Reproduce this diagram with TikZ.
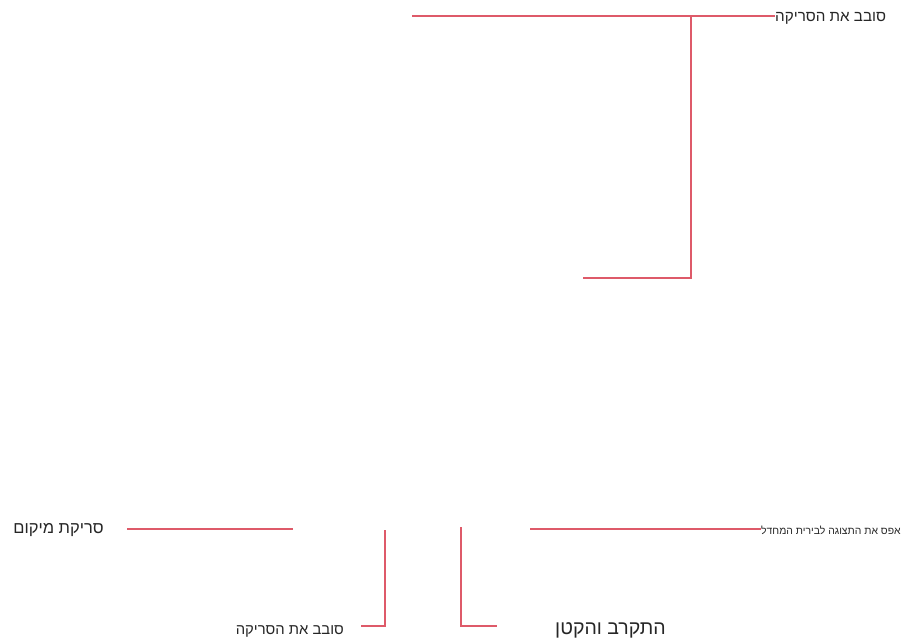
\documentclass[tikz,border=0pt]{standalone}
\usepackage{fontspec}
\setmainfont{Liberation Sans}
\newfontfamily\hebfont[Script=Hebrew]{Liberation Sans}
\TeXXeTstate=1
\begin{document}
\begin{tikzpicture}[x=1pt,y=-1pt,
  lbl/.style={inner sep=0pt, text=black!85},
  wire/.style={draw={rgb,255:red,222;green,90;blue,105}, line width=1.1pt}]
\useasboundingbox (0,0) rectangle (904,639);
% top
\node[lbl, anchor=west, font=\hebfont\fontsize{15.2}{17}\selectfont] (t1) at (775,18) {\beginR סובב את הסריקה\endR};
\coordinate (a1) at (412,16);
\coordinate (a2) at (691,16);
\coordinate (a3) at (691,278);
\coordinate (a4) at (583,278);
\draw[wire] (a1) -- (a1 -| t1.west);
\draw[wire] (a2) -- (a3) -- (a4);
% bottom left
\node[lbl, anchor=east, font=\hebfont\fontsize{16.5}{19}\selectfont] (t2) at (104,530) {\beginR סריקת מיקום\endR};
\coordinate (b1) at (127,529);
\coordinate (b2) at (293,529);
\draw[wire] (b1) -- (b2);
% rotate bottom
\node[lbl, anchor=east, font=\hebfont\fontsize{14.8}{17}\selectfont] (t3) at (344,631) {\beginR סובב את הסריקה\endR};
\coordinate (c1) at (385,530);
\coordinate (c2) at (385,626);
\coordinate (c3) at (361,626);
\draw[wire] (c1) -- (c2) -- (c3);
% zoom
\node[lbl, anchor=west, font=\hebfont\fontsize{19.5}{22}\selectfont] (t4) at (555,630) {\beginR התקרב והקטן\endR};
\coordinate (d1) at (461,527);
\coordinate (d2) at (461,626);
\coordinate (d3) at (497,626);
\draw[wire] (d1) -- (d2) -- (d3);
% reset
\node[lbl, anchor=west, font=\hebfont\fontsize{10.4}{12}\selectfont] (t5) at (761,530) {\beginR אפס את התצוגה לבירית המחדל\endR};
\coordinate (e1) at (530,529);
\draw[wire] (e1) -- (e1 -| t5.west);
\end{tikzpicture}
\end{document}
